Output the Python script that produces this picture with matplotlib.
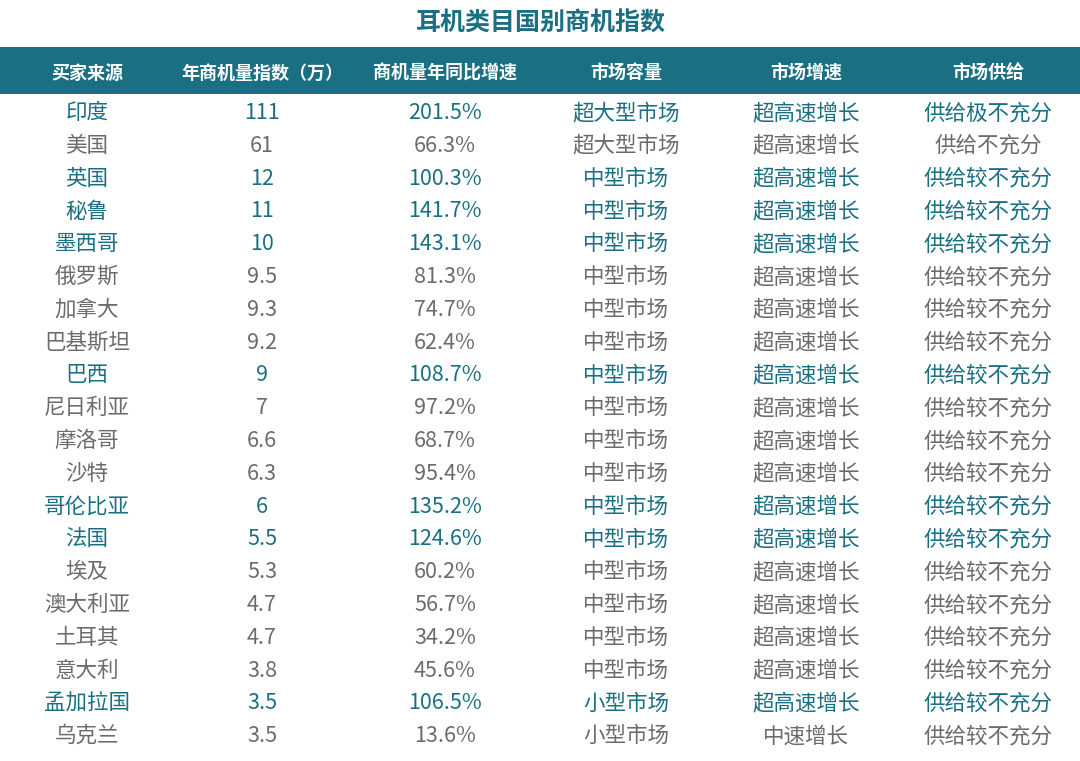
import matplotlib
matplotlib.use("Agg")
import matplotlib.pyplot as plt
from matplotlib.patches import Rectangle

plt.rcParams["font.family"] = ["Noto Sans CJK SC", "DejaVu Sans"]

TITLE = "耳机类目国别商机指数"
HEADERS = ["买家来源", "年商机量指数（万）", "商机量年同比增速", "市场容量", "市场增速", "市场供给"]
countries = ["印度", "美国", "英国", "秘鲁", "墨西哥", "俄罗斯", "加拿大", "巴基斯坦", "巴西", "尼日利亚",
             "摩洛哥", "沙特", "哥伦比亚", "法国", "埃及", "澳大利亚", "土耳其", "意大利", "孟加拉国", "乌克兰"]
index_wan = ["111", "61", "12", "11", "10", "9.5", "9.3", "9.2", "9", "7",
             "6.6", "6.3", "6", "5.5", "5.3", "4.7", "4.7", "3.8", "3.5", "3.5"]
growth = ["201.5%", "66.3%", "100.3%", "141.7%", "143.1%", "81.3%", "74.7%", "62.4%", "108.7%", "97.2%",
          "68.7%", "95.4%", "135.2%", "124.6%", "60.2%", "56.7%", "34.2%", "45.6%", "106.5%", "13.6%"]
capacity = ["超大型市场", "超大型市场"] + ["中型市场"] * 16 + ["小型市场", "小型市场"]
speed = ["超高速增长"] * 19 + ["中速增长"]
supply = ["供给极不充分", "供给不充分"] + ["供给较不充分"] * 18
highlight = ["印度", "英国", "秘鲁", "墨西哥", "巴西", "哥伦比亚", "法国", "孟加拉国"]

TEAL = "#1a6f83"
GRAY = "#6b6b6b"

fig = plt.figure(figsize=(10.8, 7.61), dpi=100)
ax = fig.add_axes([0, 0, 1, 1])
ax.set_xlim(0, 1080)
ax.set_ylim(761, 0)
ax.axis("off")

ax.text(540, 24, TITLE, ha="center", va="center", fontsize=18, fontweight="bold", color=TEAL)
ax.add_patch(Rectangle((0, 47), 1080, 47, color=TEAL, lw=0))
col_x = [87, 262, 445, 626, 806, 988]
for x, h in zip(col_x, HEADERS):
    ax.text(x, 73, h, ha="center", va="center", fontsize=13, fontweight="bold", color="white")

y0, dy = 113, 32.8
for i, c in enumerate(countries):
    color = TEAL if c in highlight else GRAY
    vals = [c, index_wan[i], growth[i], capacity[i], speed[i], supply[i]]
    for x, v in zip(col_x, vals):
        ax.text(x, y0 + i * dy, v, ha="center", va="center", fontsize=15.5, color=color)

fig.savefig("out.png", dpi=100, facecolor="white")
